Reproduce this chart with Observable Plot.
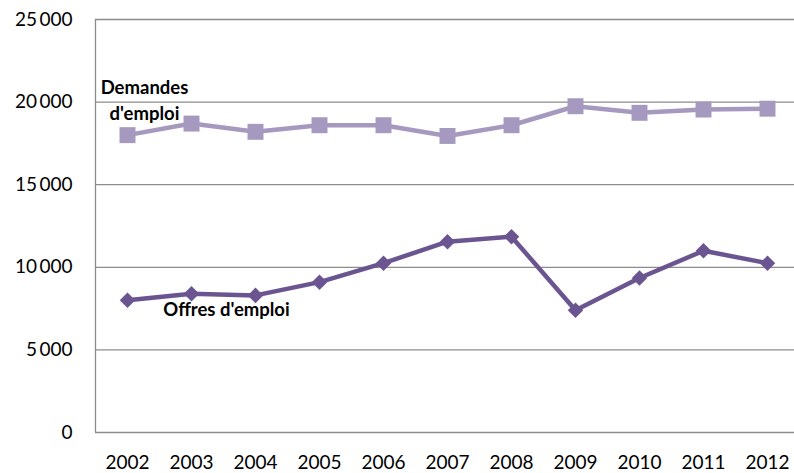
<!DOCTYPE html>
<html>
<head>
<meta charset="utf-8">
<script src="https://cdn.jsdelivr.net/npm/d3@7"></script>
<script src="https://cdn.jsdelivr.net/npm/@observablehq/plot@0.6"></script>
<style>
  html, body { margin: 0; padding: 0; background: #fff; }
  #chart svg { display: block; }
</style>
</head>
<body>
<div id="chart"></div>
<script>
const years = [2002, 2003, 2004, 2005, 2006, 2007, 2008, 2009, 2010, 2011, 2012];
const demandes = [18000, 18700, 18200, 18600, 18600, 17950, 18600, 19750, 19350, 19550, 19600];
const offres = [8000, 8400, 8300, 9100, 10250, 11550, 11850, 7400, 9350, 11000, 10250];
const yTicks = [0, 5000, 10000, 15000, 20000, 25000];
const seriesNames = ["Demandes\nd'emploi", "Offres d'emploi"];

const dem = years.map((y, i) => ({year: y, value: demandes[i]}));
const off = years.map((y, i) => ({year: y, value: offres[i]}));

const light = "#a699bf";
const dark = "#6b5591";
const grid = "#8c8c8c";
const fmt = d => d === 0 ? "0" : d3.format(",")(d).replace(",", "\u2009");

const chart = Plot.plot({
  width: 794,
  height: 473,
  marginLeft: 95,
  marginTop: 19,
  marginBottom: 41,
  marginRight: 0,
  style: {fontFamily: "Lato, sans-serif", background: "#fff", overflow: "hidden"},
  x: {type: "linear", domain: [2001.5, 2012.5], range: [95, 799]},
  y: {domain: [0, 25000]},
  marks: [
    Plot.ruleY(yTicks, {stroke: grid, strokeWidth: 1.3, x1: 2001.5, x2: 2012.5}),
    Plot.ruleX([2001.5], {y1: 0, y2: 25000, stroke: grid, strokeWidth: 1.3}),
    Plot.axisY({ticks: yTicks, tickSize: 0, tickPadding: 23, tickFormat: fmt, fontSize: 19, fill: "#000", label: null}),
    Plot.axisX({ticks: years, tickSize: 0, tickPadding: 23, tickFormat: d => String(d), fontSize: 19, fill: "#000", label: null}),
    Plot.line(dem, {x: "year", y: "value", stroke: light, strokeWidth: 4.5}),
    Plot.dot(dem, {x: "year", y: "value", symbol: "square", r: 9, fill: light, stroke: "none"}),
    Plot.line(off, {x: "year", y: "value", stroke: dark, strokeWidth: 4.5}),
    Plot.dot(off, {x: "year", y: "value", symbol: "diamond2", r: 7, fill: dark, stroke: "none"}),
    Plot.text([seriesNames[0]], {x: 2002, y: 20200, dx: 17, text: d => d, fontWeight: "bold", fontSize: 18.5, fill: "#000", lineHeight: 1.4, textAnchor: "middle"}),
    Plot.text([seriesNames[1]], {x: 2003, y: 7400, dx: 35, text: d => d, fontWeight: "bold", fontSize: 18.5, fill: "#000", textAnchor: "middle"})
  ]
});
document.getElementById("chart").appendChild(chart);
</script>
</body>
</html>
